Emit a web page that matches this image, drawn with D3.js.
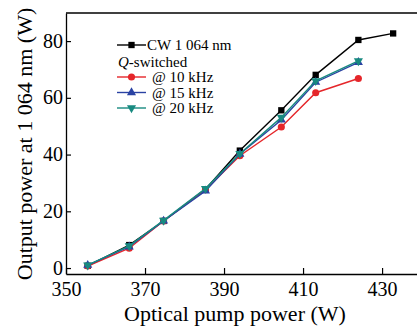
<!DOCTYPE html>
<html>
<head>
<meta charset="utf-8">
<script src="https://cdn.jsdelivr.net/npm/d3@7"></script>
<style>
  body { margin: 0; background: #fff; }
</style>
</head>
<body>
<div id="chart"></div>
<script>
// pump power (W) and output power (W)
const pumpCW = [355.5, 366, 374.7, 385.3, 394, 404.5, 413.2, 424, 432.8];
const cw1064 = [0.8, 8.1, 16.6, 27.8, 41.4, 55.6, 68.1, 80.4, 82.7];

const pumpQ = [355.5, 366, 374.7, 385.3, 394, 404.5, 413.2, 424];
const q10 = [0.7, 7.0, 16.6, 27.6, 39.6, 49.7, 61.8, 66.8];
const q15 = [1.0, 7.5, 16.6, 27.2, 40.2, 52.2, 65.5, 72.5];
const q20 = [1.0, 7.8, 16.8, 28.0, 40.3, 53.1, 66.0, 73.0];

const xTicks = [350, 370, 390, 410, 430];
const yTicks = [0, 20, 40, 60, 80];

const series = [
  { name: "CW 1 064 nm", x: pumpCW, y: cw1064, color: "#000000", symbol: d3.symbolSquare, size: 40 },
  { name: "@ 10 kHz", x: pumpQ, y: q10, color: "#e5262a", symbol: d3.symbolCircle, size: 40 },
  { name: "@ 15 kHz", x: pumpQ, y: q15, color: "#2a42a3", symbol: d3.symbolTriangle, size: 36 },
  { name: "@ 20 kHz", x: pumpQ, y: q20, color: "#188a80", symbol: d3.symbolTriangle, size: 36, flip: true }
];

const W = 417, H = 326;
const frame = { left: 66, top: 13, right: 420, bottom: 274 };
const serif = "'Liberation Serif', 'Times New Roman', serif";

const svg = d3.select("#chart").append("svg")
  .attr("width", W)
  .attr("height", H)
  .style("font-family", serif);

// --- scales ---
const x = d3.scaleLinear().domain([350, 439.6]).range([frame.left, frame.right]);
const y = d3.scaleLinear().domain([-2.1, 89.9]).range([frame.bottom, frame.top]);

// --- axes (ticks point inward) ---
const xAxis = svg.append("g")
  .attr("transform", `translate(0,${frame.bottom})`)
  .call(d3.axisBottom(x).tickValues(xTicks).tickSize(-6).tickPadding(8).tickSizeOuter(0));

const yAxis = svg.append("g")
  .attr("transform", `translate(${frame.left},0)`)
  .call(d3.axisLeft(y).tickValues(yTicks).tickSize(-5).tickPadding(3).tickSizeOuter(0));

[xAxis, yAxis].forEach(g => {
  g.attr("font-family", serif);
  g.select(".domain").attr("stroke", "#000").attr("stroke-width", 1.3);
  g.selectAll(".tick line").attr("stroke", "#000").attr("stroke-width", 1.2);
  g.selectAll(".tick text")
    .attr("fill", "#000")
    .style("font-family", serif)
    .style("font-size", "20px");
});
yAxis.selectAll(".tick text").attr("dy", "0.3em");

// top border of the frame
svg.append("line")
  .attr("x1", frame.left).attr("x2", frame.right)
  .attr("y1", frame.top).attr("y2", frame.top)
  .attr("stroke", "#000")
  .attr("stroke-width", 1.3);

// --- axis titles ---
svg.append("text")
  .attr("x", 235)
  .attr("y", 321)
  .attr("text-anchor", "middle")
  .style("font-family", serif)
  .style("font-size", "22px")
  .text("Optical pump power (W)");

svg.append("text")
  .attr("transform", "rotate(-90)")
  .attr("x", -144)
  .attr("y", 32)
  .attr("text-anchor", "middle")
  .style("font-family", serif)
  .style("font-size", "22px")
  .text("Output power at 1 064 nm (W)");

// --- lines and markers ---
const line = d3.line()
  .x(d => x(d[0]))
  .y(d => y(d[1]));

series.forEach(s => {
  const pts = s.x.map((v, i) => [v, s.y[i]]);
  svg.append("path")
    .datum(pts)
    .attr("fill", "none")
    .attr("stroke", s.color)
    .attr("stroke-width", 1.4)
    .attr("d", line);

  svg.selectAll(null)
    .data(pts)
    .enter()
    .append("path")
    .attr("d", d3.symbol().type(s.symbol).size(s.size))
    .attr("transform", d => `translate(${x(d[0])},${y(d[1])})${s.flip ? " rotate(180)" : ""}`)
    .attr("fill", s.color);
});

// --- legend ---
const legendRows = [
  { s: series[0], y: 45 },
  { label: "Q", y: 62 },
  { s: series[1], y: 77 },
  { s: series[2], y: 92.5 },
  { s: series[3], y: 108 }
];

legendRows.forEach(r => {
  if (r.s) {
    svg.append("line")
      .attr("x1", 117).attr("x2", 146)
      .attr("y1", r.y).attr("y2", r.y)
      .attr("stroke", r.s.color)
      .attr("stroke-width", 1.4);
    svg.append("path")
      .attr("d", d3.symbol().type(r.s.symbol).size(r.s.size))
      .attr("transform", `translate(131.5,${r.y})${r.s.flip ? " rotate(180)" : ""}`)
      .attr("fill", r.s.color);
    svg.append("text")
      .attr("x", r.s === series[0] ? 147 : 152)
      .attr("y", r.y + 5)
      .style("font-family", serif)
      .style("font-size", "15px")
      .text(r.s.name);
  } else {
    const t = svg.append("text")
      .attr("x", 118)
      .attr("y", r.y + 5)
      .style("font-family", serif)
      .style("font-size", "15px");
    t.append("tspan").style("font-style", "italic").text("Q");
    t.append("tspan").text("-switched");
  }
});
</script>
</body>
</html>
